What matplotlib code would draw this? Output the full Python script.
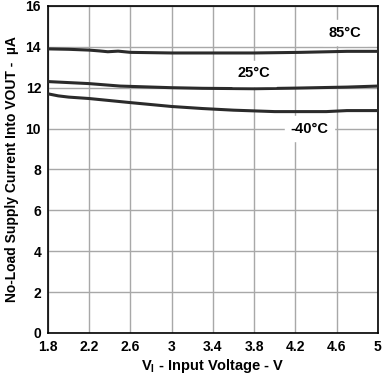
import matplotlib.pyplot as plt

plt.rcParams['font.family'] = ['Liberation Sans', 'DejaVu Sans']

# Input voltage (V) and no-load supply current (uA)
v_85 = [1.8, 2.0, 2.2, 2.3, 2.38, 2.48, 2.6, 3.0, 3.8, 4.25, 4.7, 5.0]
i_85 = [13.9, 13.88, 13.84, 13.8, 13.76, 13.79, 13.73, 13.7, 13.7, 13.73, 13.78, 13.78]

v_25 = [1.8, 2.0, 2.2, 2.5, 3.0, 3.3, 3.8, 4.2, 4.7, 5.0]
i_25 = [12.3, 12.25, 12.2, 12.08, 12.0, 11.97, 11.95, 11.98, 12.03, 12.08]

v_m40 = [1.8, 1.9, 2.0, 2.2, 2.6, 3.0, 3.3, 3.6, 4.0, 4.5, 4.7, 5.0]
i_m40 = [11.7, 11.6, 11.54, 11.47, 11.27, 11.08, 10.98, 10.9, 10.83, 10.83, 10.88, 10.88]

xticks = [1.8, 2.2, 2.6, 3.0, 3.4, 3.8, 4.2, 4.6, 5.0]
xticklabels = ['1.8', '2.2', '2.6', '3', '3.4', '3.8', '4.2', '4.6', '5']
yticks = list(range(0, 17, 2))

fig = plt.figure(figsize=(3.84, 3.74), dpi=100)
ax = fig.add_axes([0.125, 0.11, 0.859, 0.874])

line_color = '#2b2b2b'
for v, i in [(v_85, i_85), (v_25, i_25), (v_m40, i_m40)]:
    ax.plot(v, i, color=line_color, lw=2.2, zorder=3)

ax.set_xlim(1.8, 5.0)
ax.set_ylim(0, 16)
ax.set_xticks(xticks)
ax.set_xticklabels(xticklabels)
ax.set_yticks(yticks)
ax.grid(True, color='#a8a8a8', lw=1.0)
ax.tick_params(length=0, labelsize=10, pad=5)
for lbl in ax.get_xticklabels() + ax.get_yticklabels():
    lbl.set_fontweight('bold')
for s in ax.spines.values():
    s.set_linewidth(1.2)

ax.text(4.68, 14.7, '85°C', ha='center', va='center', fontsize=10.5,
        fontweight='bold', backgroundcolor='white', zorder=4)
ax.text(3.8, 12.7, '25°C', ha='center', va='center', fontsize=10.5,
        fontweight='bold', backgroundcolor='white', zorder=4)
ax.text(4.34, 10.0, '-40°C', ha='center', va='center', fontsize=10.5,
        fontweight='bold', backgroundcolor='white', zorder=4)

ax.set_xlabel('V$_\\mathregular{I}$ - Input Voltage - V', fontsize=10.5,
              fontweight='bold', labelpad=2)
ax.set_ylabel('No-Load Supply Current Into VOUT -  µA', fontsize=10,
              fontweight='bold', labelpad=5)

fig.savefig('out.png', dpi=100)
